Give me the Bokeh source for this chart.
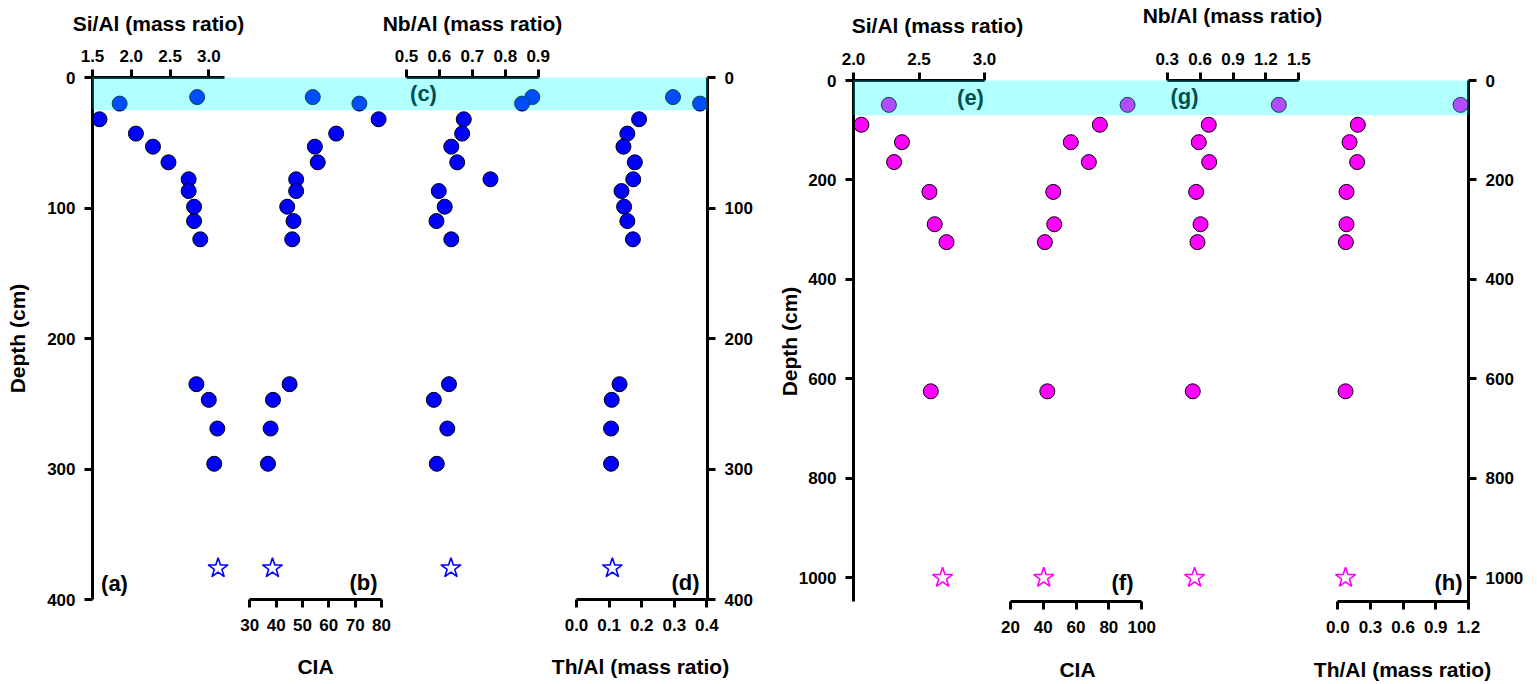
import math
from bokeh.plotting import figure
from bokeh.models import (Range1d, LinearAxis, FixedTicker, PrintfTickFormatter,
                          BoxAnnotation, Label)
from bokeh.layouts import row
from bokeh.embed import file_html
from bokeh.resources import INLINE

FONT = "Liberation Sans"

# ---------------- data: profile (a)-(d) ----------------
depth_a = [15, 20, 32, 43, 53, 65, 78, 87, 99, 110, 124, 235, 247, 269, 296]
sial_a = [2.85, 1.85, 1.59, 2.06, 2.28, 2.48, 2.74, 2.74, 2.81, 2.81, 2.89, 2.84, 3.00, 3.11, 3.07]
cia_a = [53.9, 71.6, 78.9, 62.8, 54.7, 55.8, 47.6, 47.6, 44.2, 46.6, 46.1, 45.1, 38.8, 37.9, 36.9]
nbal_a = [0.882, 0.851, 0.674, 0.669, 0.636, 0.654, 0.755, 0.598, 0.616, 0.591, 0.636, 0.629, 0.583, 0.624, 0.592]
thal_a = [0.296, 0.379, 0.192, 0.156, 0.144, 0.179, 0.174, 0.138, 0.146, 0.156, 0.173, 0.132, 0.108, 0.106, 0.106]
star_depth_a = [376]
star_sial_a = [3.12]
star_cia_a = [38.6]
star_nbal_a = [0.635]
star_thal_a = [0.110]
band_a = [0, 25]

depth_ticks_a = [0, 100, 200, 300, 400]
sial_ticks_a = [1.5, 2.0, 2.5, 3.0]
cia_ticks_a = [30, 40, 50, 60, 70, 80]
nbal_ticks_a = [0.5, 0.6, 0.7, 0.8, 0.9]
thal_ticks_a = [0.0, 0.1, 0.2, 0.3, 0.4]

# ---------------- data: profile (e)-(h) ----------------
depth_e = [49, 89, 124, 164, 224, 289, 325, 625]
sial_e = [2.27, 2.06, 2.37, 2.31, 2.58, 2.62, 2.71, 2.59]
cia_e = [91.4, 74.5, 56.8, 67.8, 46.1, 46.7, 41.0, 42.5]
nbal_e = [1.318, 0.679, 0.588, 0.683, 0.564, 0.604, 0.576, 0.533]
thal_e = [1.128, 0.184, 0.108, 0.178, 0.080, 0.080, 0.074, 0.071]
star_depth_e = [1000]
star_sial_e = [2.68]
star_cia_e = [40.3]
star_nbal_e = [0.55]
star_thal_e = [0.071]
band_e = [0, 70]

depth_ticks_e = [0, 200, 400, 600, 800, 1000]
sial_ticks_e = [2.0, 2.5, 3.0]
cia_ticks_e = [20, 40, 60, 80, 100]
nbal_ticks_e = [0.3, 0.6, 0.9, 1.2, 1.5]
thal_ticks_e = [0.0, 0.3, 0.6, 0.9, 1.2]

FIG_H = 684


def span(v0, v1, p0, p1, width):
    """Range covering the whole canvas width so that v0 sits at pixel p0, v1 at p1."""
    k = (p1 - p0) / (v1 - v0)
    s = v0 - p0 / k
    return Range1d(s, s + width / k)


def depth_range(top_px, px_per_unit):
    start = -top_px / px_per_unit
    return Range1d(start + FIG_H / px_per_unit, start)


def style_axis(ax, standoff):
    ax.axis_line_width = 3
    ax.axis_line_color = "black"
    ax.major_tick_line_width = 3
    ax.major_tick_line_color = "black"
    ax.major_tick_out = 8
    ax.major_tick_in = 0
    ax.minor_tick_line_color = None
    ax.major_label_text_font = FONT
    ax.major_label_text_font_style = "bold"
    ax.major_label_text_font_size = "17px"
    ax.major_label_text_color = "black"
    ax.major_label_standoff = standoff


def text(p, s, x, y, size, angle=0.0):
    p.add_layout(Label(x=x, y=y, y_range_name="px", text=s, text_font=FONT,
                       text_font_style="bold", text_font_size=size, text_color="black",
                       text_align="center", text_baseline="middle", angle=angle))


def panel(width, axis_x, depth_y, depth_end, depth_ticks, cols, depth, star_depth, band,
          color, texts):
    p = figure(width=width, height=FIG_H, x_range=Range1d(0, width),
               y_range=depth_range(*depth_y), x_axis_location=None, y_axis_location=None,
               output_backend="svg", toolbar_location=None,
               min_border_left=0, min_border_right=0, min_border_top=0, min_border_bottom=0)
    p.outline_line_color = None
    p.grid.visible = False
    p.background_fill_color = "white"
    p.border_fill_color = "white"
    p.extra_y_ranges["px"] = Range1d(FIG_H, 0)
    for c in cols:
        p.extra_x_ranges[c["name"]] = c["range"]

    # depth axes (left and right)
    for side, xloc in zip(("left", "right"), axis_x):
        ax = LinearAxis(ticker=FixedTicker(ticks=depth_ticks), bounds=(0, depth_end),
                        fixed_location=xloc)
        style_axis(ax, 9)
        p.add_layout(ax, side)

    for c in cols:
        rng = c["name"]
        p.scatter(x=c["values"], y=depth, x_range_name=rng, marker="circle", size=15,
                  fill_color=color, line_color="black", line_width=1)
        p.scatter(x=c["star"], y=star_depth, x_range_name=rng, marker="star", size=21,
                  fill_alpha=0, line_color=color, line_width=1.6)
        loc = 0 if c["side"] == "above" else depth_end
        ax = LinearAxis(x_range_name=rng, ticker=FixedTicker(ticks=c["ticks"]),
                        formatter=PrintfTickFormatter(format=c["fmt"]),
                        bounds=c["bounds"], fixed_location=loc)
        style_axis(ax, 8 if c["side"] == "above" else 11)
        p.add_layout(ax, c["side"])

    for s, x, y, size, ang in texts:
        text(p, s, x, y, size, ang)

    p.add_layout(BoxAnnotation(left=axis_x[0], right=axis_x[1], top=band[0], bottom=band[1],
                               fill_color="#00FFFF", fill_alpha=0.3, line_color=None))
    return p


W1, W2 = 768, 769
cols_a = [
    dict(name="sial", values=sial_a, star=star_sial_a, ticks=sial_ticks_a, fmt="%.1f",
         bounds=(1.5, 3.2), range=span(1.5, 3.0, 92, 208.3, W1), side="above"),
    dict(name="cia", values=cia_a, star=star_cia_a, ticks=cia_ticks_a, fmt="%d",
         bounds=(30, 80), range=span(30, 80, 249.3, 381.0, W1), side="below"),
    dict(name="nbal", values=nbal_a, star=star_nbal_a, ticks=nbal_ticks_a, fmt="%.1f",
         bounds=(0.5, 0.9), range=span(0.5, 0.9, 406.0, 537.7, W1), side="above"),
    dict(name="thal", values=thal_a, star=star_thal_a, ticks=thal_ticks_a, fmt="%.1f",
         bounds=(0.0, 0.4), range=span(0.0, 0.4, 576.0, 706.4, W1), side="below"),
]
cols_e = [
    dict(name="sial", values=sial_e, star=star_sial_e, ticks=sial_ticks_e, fmt="%.1f",
         bounds=(2.0, 3.0), range=span(2.0, 3.0, 85, 216, W2), side="above"),
    dict(name="cia", values=cia_e, star=star_cia_e, ticks=cia_ticks_e, fmt="%d",
         bounds=(20, 100), range=span(20, 100, 241.9, 373.2, W2), side="below"),
    dict(name="nbal", values=nbal_e, star=star_nbal_e, ticks=nbal_ticks_e, fmt="%.1f",
         bounds=(0.3, 1.5), range=span(0.3, 1.5, 398.7, 530.3, W2), side="above"),
    dict(name="thal", values=thal_e, star=star_thal_e, ticks=thal_ticks_e, fmt="%.1f",
         bounds=(0.0, 1.2), range=span(0.0, 1.2, 569.3, 699.9, W2), side="below"),
]

V = math.pi / 2
texts_a = [
    ("Si/Al (mass ratio)", 158, 23, "21px", 0.0),
    ("Nb/Al (mass ratio)", 472, 23, "21px", 0.0),
    ("CIA", 315, 666, "21px", 0.0),
    ("Th/Al (mass ratio)", 640, 666, "21px", 0.0),
    ("Depth (cm)", 17, 338, "21px", V),
    ("(a)", 114, 583, "22px", 0.0),
    ("(b)", 363, 582, "22px", 0.0),
    ("(c)", 423, 93, "22px", 0.0),
    ("(d)", 685, 582, "22px", 0.0),
]
texts_e = [
    ("Si/Al (mass ratio)", 169, 25, "21px", 0.0),
    ("Nb/Al (mass ratio)", 464, 15, "21px", 0.0),
    ("CIA", 309, 669, "21px", 0.0),
    ("Th/Al (mass ratio)", 634, 669, "21px", 0.0),
    ("Depth (cm)", 21, 341, "21px", V),
    ("(e)", 202, 97, "22px", 0.0),
    ("(f)", 354, 582, "22px", 0.0),
    ("(g)", 416, 96, "22px", 0.0),
    ("(h)", 680, 582, "22px", 0.0),
]

p1 = panel(W1, (92, 707), (77, 1.305), 400, depth_ticks_a, cols_a, depth_a,
           star_depth_a, band_a, "#0000FF", texts_a)
p2 = panel(W2, (85, 700), (80, 0.4973), 1048, depth_ticks_e, cols_e, depth_e,
           star_depth_e, band_e, "#FF00FF", texts_e)

layout = row(p1, p2)
open("out.html", "w").write(file_html(layout, INLINE))
